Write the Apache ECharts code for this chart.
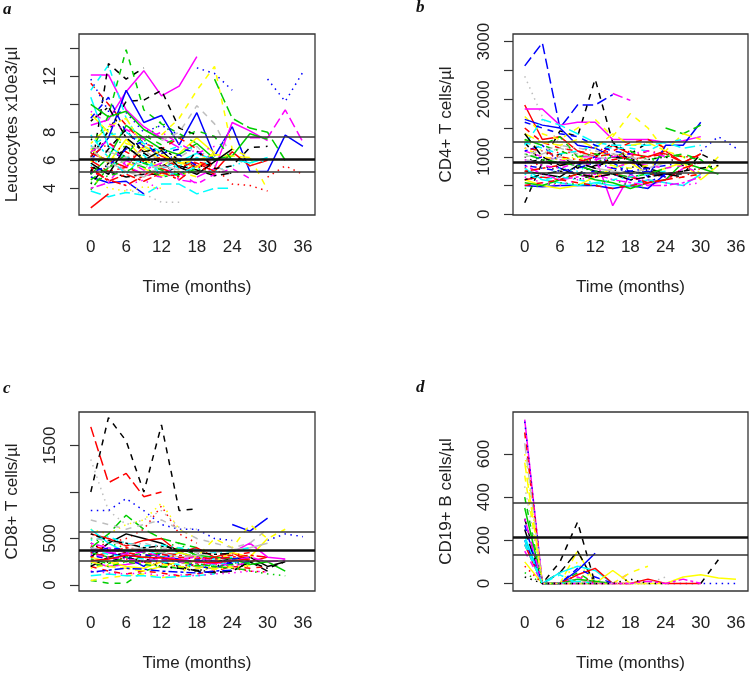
<!DOCTYPE html>
<html><head><meta charset="utf-8">
<script src="https://cdn.jsdelivr.net/npm/echarts@6/dist/echarts.min.js"></script>
<style>html,body{margin:0;padding:0;background:#fff}#c{width:750px;height:673px}</style>
</head><body><div id="c"></div>
<script>
// Measurement times (months)
const times = [0,3,6,9,12,15,18,21,24,27,30,33,36];
const xTickLabels = [0,6,12,18,24,30,36];

// Panel a: Leucocytes x10e3/µl
const leucValues = [
[12.1,12.1,9.6,8.4,7.6,6.9],
[8.5,8.9,10.9,12.4,10.6,11.3,13.4],
[5.0,12.9,11.8,12.6],
[6.2,8.1,10.2,10.3,11.0,8.3,7.8],
[6.5,9.2,13.9,9.6,8.6,7.9,7.2],
[6.0,7.6,11.0,8.7,9.2,7.1,9.4,6.3,8.4,5.2,5.2,7.8,7.0],
[null,null,null,null,null,null,12.6,12.2,11.0,null,11.8,10.2,12.3],
[null,null,null,null,7.8,9.0,11.0,12.7,6.8,6.2,3.9],
[null,null,null,null,null,null,null,11.8,9.0,8.3,8.0,6.0],
[null,null,null,null,7.4,8.0,9.9,8.6,6.2,5.6,6.0],
[null,null,null,null,null,null,null,null,null,7.6,7.6,9.6,7.3],
[null,null,null,null,null,null,4.8,5.4,8.7,8.1,7.4],
[null,null,null,null,null,null,5.2,5.5,4.3,4.2,3.8],
[null,null,null,null,null,null,null,null,null,null,4.8,5.6,5.0],
[3.8,3.4,3.7,3.5,4.3,4.3,3.6,4.0,4.0],
[null,null,3.9,3.6,3.0,3.0],
[2.6,3.6],
[5.5,5.2,4.8,5.0,5.0,5.6,5.3,4.9,5.1],
[6.5,6.0,5.5,7.0,6.3,5.8,5.8,5.2,6.6,5.6,6.0],
[6.8,5.8,7.5,6.0,5.5,6.5,7.6,6.5],
[10.5,7.0,6.2,5.8,5.4,5.9,6.5,6.0,6.1,5.8,6.2],
[5.0,6.2,8.5,7.6,6.8,6.4,7.2,6.1,6.3,7.9,7.5],
[4.8,4.4,4.5,3.6],
[5.2,4.6,4.2,4.6,3.8],
[7.5,7.0,6.2,5.8,6.0,5.4],
[11.5,10.0,8.5,7.2,6.8,7.6,6.8,5.5],
[7.6,8.2,6.8,7.3,8.8,7.2],
[11.0,12.8,9.0,7.0,6.2,5.4,6.2,5.4],
[9.3,8.0,7.2,6.8,6.0,5.8,6.0,6.4,6.3,6.2],
[4.3,5.8,6.9,6.2,5.6,6.0,5.5,5.8],
[6.0,5.2,5.5,5.0,5.4,5.0,5.8,5.5],
[9.0,10.5,8.0,7.0,6.5,6.8,6.6,6.1],
[3.9,5.5,6.0,5.5,4.8,5.0,5.2],
[6.6,7.4,5.6,5.0,4.8,5.1,4.3,5.0,5.4,4.7],
[7.0,6.6,6.2,6.7,5.9,6.0],
[5.8,5.0,7.0,6.0,6.7,5.5,5.0,5.9,6.8],
[4.7,4.0,3.8,4.1,4.0],
[11.8,9.5,9.4,8.0,8.5,7.8],
[5.6,6.6,6.2,5.8,5.0,5.7,5.4,5.2,5.6,6.0,5.9],
[5.3,4.6,4.2,4.9,5.2,4.6,5.6,5.0],
[5.2,6.8,8.2,6.5,5.8,5.0,6.7,5.4,5.6,6.9,7.0],
[4.6,5.5,6.4,7.8,7.1,7.6,8.1,7.7,6.0],
[4.0,4.4,6.0,5.3,5.8,4.6,4.4],
[7.2,8.4,9.0,7.0,6.4,5.8,5.5,6.6],
[6.2,5.9,5.2,4.8,5.6,5.3],
[7.8,6.2,5.0,6.4,4.9,5.1,5.5],
[6.3,7.2,6.6,5.9,6.2,5.5,5.9,5.6],
[5.1,5.6,6.8,7.4,6.0,6.4,5.6],
[8.8,9.8,7.6,6.6,6.9,6.0],
[4.4,4.9,5.2,5.8,5.3,4.9,5.4,5.0],
[7.0,7.8,8.0,7.2,6.6,7.0,6.8],
[9.5,8.6,8.2,7.5,8.0,7.2,6.5,7.0],
[5.9,6.3,5.8,5.4,4.9,5.2,4.8],
[6.9,5.5,6.0,5.6,5.5,6.2,7.0,5.6,5.0],
[10.0,9.1,9.5,8.2,7.5],
[5.5,4.5,5.0,4.5,5.1,4.8]
];
const leucStyles = ['m1','m1','k2','k2','g2','b1','b3','y2','g5','e2','m5','m1','r3','r3','c5','e3','r1','k5','r1','y1','c1','g1','b1','m3','k3','r2','g3','c2','y5','k4','r5','b2','g6','m2','e5','k1','y3','b3','c3','r6','k2','g2','m6','y6','e1','c6','r4','b4','k6','g4','c4','m4','y4','e4','g1','r6'];
const leucRef = [7.69, 6.1, 5.17];

// Panel b: CD4+ T cells/µl
const cd4Values = [
[2580,2980,1500,1900,1900,2080],
[1250,900,1450,1350,2350,1250,1050,1250],
[null,null,null,null,null,2100,1980],
[2400,1700,1200,1000,900,850],
[1900,1300,1350,1100,1000,1200,1050,1000,1100,900,1050],
[1830,1830,1550,1600,1600,1300,1300,1300,1250,1280,1350],
[1700,1400,1300,1500,1650,1350,1750,1500,1100,1000,700,1000],
[null,null,null,1000,1000,150,700,500,600,800],
[1650,1550,1500,1200,1150,1000,1000,650,1200,1200,1600],
[500,480,500,500,500,450,500,450,700],
[null,null,null,null,null,null,null,null,null,null,1100,1350,1150],
[null,null,null,null,null,null,null,null,1500,1400,1550],
[200,900,1050,800,1000,1250,900,800,700,700,1050,900],
[1200,1650,1550,1400,1250,1200,1200,1200,1250,1150,1200],
[1300,1200,1350,1000,900,1000,1100,950,1000,1050,950,700],
[1500,1250,1150,1100,1050,1100,1250,1300,1150],
[750,700,650,850,750,700,750,700,700,750],
[800,900,1100,1050,1200,1000,1100,700,650,650,800],
[900,1000,800,700,750,700,600,550,700],
[600,500,450,500,650,800,900,700,800,900,600,850],
[800,600,550,500,550,500,500,600,550,500,700],
[550,500,600,700,600,550,450,550,600,900,800,700],
[1100,1000,950,900,850,800,900,850,800,850,700],
[1000,850,750,600,700,750,800,950,1000,850,900],
[950,900,1000,900,800,750,700,800,900,900],
[600,650,600,700,650,700,650,550,600,800,900],
[1100,1200,900,850,1000,900,700,750,650],
[1300,1100,1000,950,1100,1000,1050],
[700,650,800,750,900,850,800],
[850,700,600,650,700,600,550,500,500,550,650],
[450,500,550,520,500,600,500,450],
[900,950,800,700,850,900,1000,750,700,750,800,850],
[750,800,850,900,1000,1050,950,1000,1050,900,1050],
[1400,1250,1200,1300,1150,1400,1200,1250,1100,1400,1300],
[1000,1050,1150,1050,1000,950,1000,900,900],
[1250,1150,1050,1100,1200,1150,1150,1100,1250,1300],
[650,550,500,600,650,700,650,600,550,500,550],
[1400,1000,850,900,800,1000,950,800,700,650],
[1050,950,900,850,750,700,650,700,800],
[1150,1100,1000,950,900,950,1000,1100,1050,1000,1000],
[850,800,750,800,900,800,750,800,850,900],
[600,700,750,700,650,700,600,650,700],
[1300,1200,1100,1000,1050,1000,950,900,1050,1000,950],
[700,600,650,600,550,600,650,700,750],
[950,850,800,900,950,1000,1050,1100,1000],
[1150,1000,950,1000,900,850,800,850,900,850],
[1050,1100,1200,1150,1100,1050,1000,950],
[500,550,600,550,500,450,500,550,600,650,700],
[1600,1500,1400,1350,1200,1100,1050]
];
const cd4Styles = ['b5','k2','m5','e3','r1','m1','y2','m1','b1','b1','b3','g5','k2','c5','g2','r2','k1','r3','b2','y1','c1','g1','m2','k3','e1','r5','b6','y3','c3','m6','g3','k4','r6','y5','e5','c2','m3','k5','g6','r4','b4','k6','g4','c4','m4','y4','e4','r2','b2'];
const cd4Ref = [1263, 898, 718];

// Panel c: CD8+ T cells/µl
const cd8Values = [
[1000,1800,1550,1000,1720,800,820],
[1700,1100,1200,950,1000],
[1350,800,650,700,800,620,600],
[800,800,930,800,650,600,600,500,480],
[null,null,null,null,null,null,null,null,650,580,720],
[null,null,null,null,null,null,null,null,null,null,480,550,520],
[600,550,650,700,880,600,500],
[400,450,500,600,850,550,450],
[50,20,20,150,200,180],
[400,550,750,600,500,450,400],
[300,450,550,500,450,350,300,250,280,300,200,250],
[550,500,420,480,500,350,400,300,350,250,300],
[600,450,350,400,300,350,300,280,300],
[250,200,220,250,300,250,200,250,350,450,300,280],
[50,80,100,120,80,100,300,500,400,650,500,600],
[400,350,300,200,350,250,200,180,250],
[700,650,600,650,700,600,500,450,400,450,600],
[200,300,350,280,250,200,150,130,150,250,150],
[350,300,250,300,350,400,320,300,280,220,250,150],
[200,150,120,150,130,100,120,150,200,180,200],
[100,120,100,100,80,90,100,120],
[150,130,120,130,100,110,100,120,130,150,140],
[450,350,300,250,200,180,150,200,250,200],
[300,250,200,180,250,350,300,250,350,300,500],
[500,450,400,350,400,450,300,250,200,150,120,100],
[350,400,380,350,300,280,250,300,280,300],
[300,350,400,380,350,320,300,280,300,320,300],
[450,400,350,300,250,280,300,250,200,250],
[380,330,300,280,250,220,200,220,250,240],
[400,350,380,400,350,300,320,350,380,400,450],
[200,250,300,250,200,180,160,140,150,250,180,250],
[250,200,180,150,200,250,200,180,200],
[280,230,300,350,300,250,230,200,180,160],
[350,300,280,250,230,200,220,230,180,150,140],
[380,350,330,360,300,280,250,230,260,300,250,270],
[420,380,350,320,330,300,280,300,320,350],
[320,280,300,330,280,250,270,260,230,250],
[550,480,450,400,420,380,350,330,340],
[230,200,250,220,200,190,210,200,220,240],
[480,520,450,420,430,400,380,350,360,400],
[330,300,280,260,270,250,240,260,270],
[180,220,260,240,220,200,180,170,190,210],
[510,470,430,450,400,380,350,360],
[260,280,320,300,290,270,250,240,260,280],
[140,160,180,170,150,140,130,150,160]
];
const cd8Styles = ['k2','r5','e3','b3','b1','b3','y3','r3','g2','g5','k1','r1','c1','m1','y2','b1','e2','k5','g1','r2','c5','m3','k3','y1','g3','b2','r6','m6','c2','e1','k4','y5','g6','r3','m5','r4','b4','k6','g4','c4','m4','y4','e4','r1','b6'];
const cd8Ref = [575, 371, 264];

// Panel d: CD19+ B cells/µl
const cd19Values = [
[760,0,0,0,0],
[750,0,0,0,0,0,0,0,0,0,0,0,0],
[700,0,0,20,0],
[650,0,0,20,0],
[560,0,0,150,0,0,0,0],
[400,0,0,50,0,0],
[300,0,100,285,0],
[250,0,50,150,0],
[220,0,50,80,60,0],
[200,0,0,60,140],
[180,0,0,40,70,0,0,20,0,0,0],
[150,0,0,30,0,0,50],
[500,0,0,0,0,0,50,80],
[null,null,null,null,null,null,null,null,null,null,0,110],
[100,0,0,0,0,60,0,0,0,30,40,25,20],
[350,0,0,20,10,0],
[200,0,0,10,0],
[270,0,0,70,30,0],
[80,0,0,40,0],
[300,0,0,0,0,0,0,10,0,20,0],
[450,0,0,0,20,0,0,0,30],
[50,0,0,0,0],
[30,0,0,0,0,0,20,0,0],
[600,0,0,100,0],
[180,0,40,0]
];
const cd19Styles = ['m1','b3','r2','e5','y5','g2','k2','k5','c1','b1','r1','m2','y2','k2','y1','g1','c5','b2','r3','m6','e3','g3','k3','y3','c2'];
const cd19Ref = [372, 214, 134];

// R default palette and line types
const rColors = {k:'#000000', r:'#FF0000', g:'#00CD00', b:'#0000FF', c:'#00FFFF', m:'#FF00FF', y:'#FFFF00', e:'#BEBEBE'};
const rLty = {'1':'solid', '2':[6,6], '3':[1.5,4.5], '4':[1.5,4.5,6,4.5], '5':[10.5,4.5], '6':[3,3,9,3]};

const FONT = '"Liberation Sans", Arial, sans-serif';
const panels = [
  {grid:{left:79, top:34, width:236, height:181}, y:[2.09,15.02], yTicks:[4,6,8,10,12,14], yLabels:[4,6,8,12], yName:'Leucocytes x10e3/µl', values:leucValues, styles:leucStyles, ref:leucRef},
  {grid:{left:513, top:34, width:235, height:181}, y:[-12,3134], yTicks:[0,500,1000,1500,2000,2500,3000], yLabels:[0,1000,2000,3000], yName:'CD4+ T cells/µl', values:cd4Values, styles:cd4Styles, ref:cd4Ref},
  {grid:{left:79, top:412, width:236, height:180}, y:[-64,1860], yTicks:[0,500,1000,1500], yLabels:[0,500,1500], yName:'CD8+ T cells/µl', values:cd8Values, styles:cd8Styles, ref:cd8Ref},
  {grid:{left:513, top:412, width:235, height:180}, y:[-35,795], yTicks:[0,200,400,600], yLabels:[0,200,400,600], yName:'CD19+ B cells/µl', values:cd19Values, styles:cd19Styles, ref:cd19Ref}
];

const option = {animation:false, backgroundColor:'#fff', grid:[], xAxis:[], yAxis:[], series:[], graphic:[]};
panels.forEach((p, i) => {
  option.grid.push(Object.assign({show:true, borderColor:'#333', borderWidth:1.3, backgroundColor:'transparent'}, p.grid));
  option.xAxis.push({type:'value', gridIndex:i, min:-2, max:38.05,
    axisLine:{show:false, onZero:false}, axisTick:{show:false}, splitLine:{show:false},
    axisLabel:{customValues:xTickLabels, margin:24, fontSize:17, color:'#222', fontFamily:FONT, formatter:v => String(v)},
    name:'Time (months)', nameLocation:'middle', nameGap:64, nameTextStyle:{fontSize:17, color:'#222', fontFamily:FONT}});
  option.yAxis.push({type:'value', gridIndex:i, min:p.y[0], max:p.y[1],
    axisLine:{show:false, onZero:false}, splitLine:{show:false},
    axisTick:{show:true, inside:false, customValues:p.yTicks, length:9, lineStyle:{color:'#333', width:1.2}},
    axisLabel:{customValues:p.yLabels, rotate:90, margin:20, fontSize:17, color:'#222', fontFamily:FONT, formatter:v => String(v)},
    name:p.yName, nameLocation:'middle', nameRotate:90, nameGap:58, nameTextStyle:{fontSize:17, color:'#222', fontFamily:FONT}});
  p.values.forEach((vals, j) => {
    const st = p.styles[j];
    const data = times.map((t, k) => [t, vals[k] === undefined ? null : vals[k]]).filter((d, k) => k < vals.length);
    option.series.push({type:'line', xAxisIndex:i, yAxisIndex:i, data:data, showSymbol:false, symbol:'none',
      connectNulls:false, silent:true, clip:true,
      lineStyle:{color:rColors[st[0]], width:1.5, type:rLty[st[1]]}});
  });
  option.series.push({type:'line', xAxisIndex:i, yAxisIndex:i, data:[], silent:true,
    markLine:{symbol:'none', silent:true, label:{show:false}, animation:false,
      data:p.ref.map((v, k) => ({yAxis:v, lineStyle:{color: k===1 ? '#111' : '#333', width: k===1 ? 2.6 : 1.6, type:'solid'}}))}});
});
const tags = [['a',3,10],['b',416,8],['c',3,389],['d',416,388]];
tags.forEach(([t,x,y]) => option.graphic.push({type:'text', left:x, top:y-9, style:{text:t, font:'italic bold 17px "Liberation Serif", "Times New Roman", serif', fill:'#111'}}));

const chart = echarts.init(document.getElementById('c'), null, {renderer:'canvas'});
chart.setOption(option);
</script></body></html>
